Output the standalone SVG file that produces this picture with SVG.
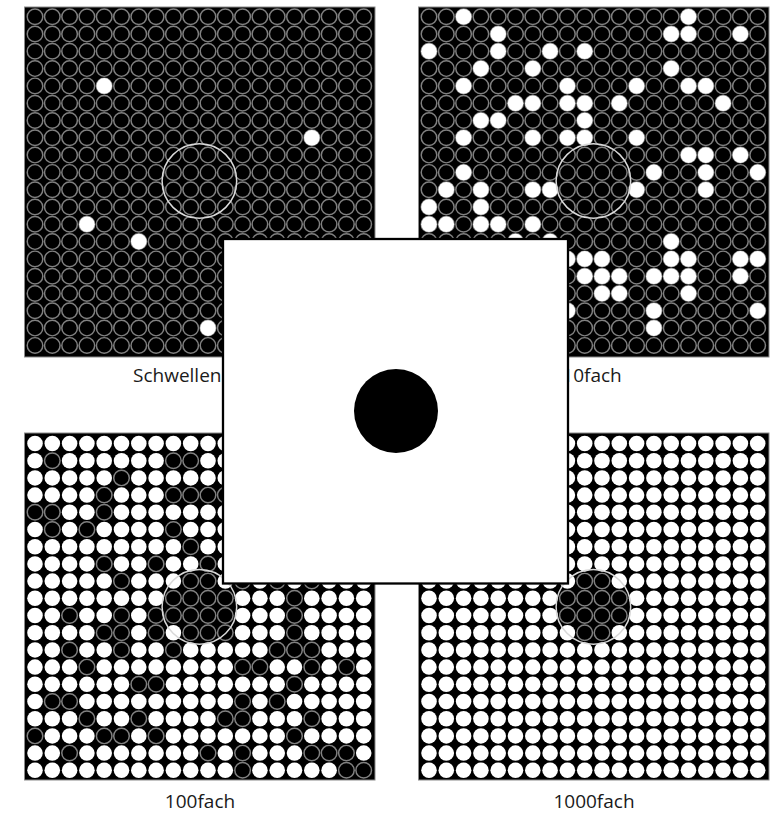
<svg xmlns="http://www.w3.org/2000/svg" xmlns:xlink="http://www.w3.org/1999/xlink" width="774" height="813" viewBox="0 0 774 813">
<style>
.panel{fill:#000;stroke:#8a8a8a;stroke-width:1}
.ring{fill:none;stroke:#d9d9d9;stroke-width:1.5}
.lbl{font-family:"Open Sans","Noto Sans","DejaVu Sans",sans-serif;font-size:19px;fill:#1a1a1a}
.frame{fill:#fff;stroke:#000;stroke-width:2.3}
</style>
<defs>
<circle id="D" r=".45" fill="#000" stroke="#808080" stroke-width=".085"/>
<circle id="W" r=".45" fill="#fff"/>
<g id="RD"><use href="#D" x="0"/><use href="#D" x="1"/><use href="#D" x="2"/><use href="#D" x="3"/><use href="#D" x="4"/><use href="#D" x="5"/><use href="#D" x="6"/><use href="#D" x="7"/><use href="#D" x="8"/><use href="#D" x="9"/><use href="#D" x="10"/><use href="#D" x="11"/><use href="#D" x="12"/><use href="#D" x="13"/><use href="#D" x="14"/><use href="#D" x="15"/><use href="#D" x="16"/><use href="#D" x="17"/><use href="#D" x="18"/><use href="#D" x="19"/></g>
<g id="RW"><use href="#W" x="0"/><use href="#W" x="1"/><use href="#W" x="2"/><use href="#W" x="3"/><use href="#W" x="4"/><use href="#W" x="5"/><use href="#W" x="6"/><use href="#W" x="7"/><use href="#W" x="8"/><use href="#W" x="9"/><use href="#W" x="10"/><use href="#W" x="11"/><use href="#W" x="12"/><use href="#W" x="13"/><use href="#W" x="14"/><use href="#W" x="15"/><use href="#W" x="16"/><use href="#W" x="17"/><use href="#W" x="18"/><use href="#W" x="19"/></g>
<g id="PD"><use href="#RD" y="0"/><use href="#RD" y="1"/><use href="#RD" y="2"/><use href="#RD" y="3"/><use href="#RD" y="4"/><use href="#RD" y="5"/><use href="#RD" y="6"/><use href="#RD" y="7"/><use href="#RD" y="8"/><use href="#RD" y="9"/><use href="#RD" y="10"/><use href="#RD" y="11"/><use href="#RD" y="12"/><use href="#RD" y="13"/><use href="#RD" y="14"/><use href="#RD" y="15"/><use href="#RD" y="16"/><use href="#RD" y="17"/><use href="#RD" y="18"/><use href="#RD" y="19"/></g>
<g id="PW"><use href="#RW" y="0"/><use href="#RW" y="1"/><use href="#RW" y="2"/><use href="#RW" y="3"/><use href="#RW" y="4"/><use href="#RW" y="5"/><use href="#RW" y="6"/><use href="#RW" y="7"/><use href="#RW" y="8"/><use href="#RW" y="9"/><use href="#RW" y="10"/><use href="#RW" y="11"/><use href="#RW" y="12"/><use href="#RW" y="13"/><use href="#RW" y="14"/><use href="#RW" y="15"/><use href="#RW" y="16"/><use href="#RW" y="17"/><use href="#RW" y="18"/><use href="#RW" y="19"/></g>
</defs>
<rect width="774" height="813" fill="#fff"/>

<g id="panel-schwellen">
<rect class="panel" x="24.5" y="7" width="350.5" height="350"/>
<g transform="translate(35 16.7) scale(17.3)">
<use href="#PD"/>
<use href="#W" x="4" y="4"/><use href="#W" x="16" y="7"/><use href="#W" x="3" y="12"/><use href="#W" x="6" y="13"/><use href="#W" x="10" y="18"/>
</g>
<circle class="ring" cx="199.4" cy="181" r="37.3"/>
<text class="lbl" x="133" y="382">Schwellen</text>
</g>

<g id="panel-10fach">
<rect class="panel" x="418.5" y="7" width="350.5" height="350"/>
<g transform="translate(429 16.7) scale(17.3)">
<use href="#PD"/>
<use href="#W" x="2" y="0"/><use href="#W" x="15" y="0"/>
<use href="#W" x="4" y="1"/><use href="#W" x="14" y="1"/><use href="#W" x="15" y="1"/><use href="#W" x="18" y="1"/>
<use href="#W" x="0" y="2"/><use href="#W" x="4" y="2"/><use href="#W" x="7" y="2"/><use href="#W" x="9" y="2"/>
<use href="#W" x="3" y="3"/><use href="#W" x="6" y="3"/><use href="#W" x="14" y="3"/>
<use href="#W" x="2" y="4"/><use href="#W" x="8" y="4"/><use href="#W" x="12" y="4"/><use href="#W" x="15" y="4"/><use href="#W" x="16" y="4"/>
<use href="#W" x="5" y="5"/><use href="#W" x="6" y="5"/><use href="#W" x="8" y="5"/><use href="#W" x="9" y="5"/><use href="#W" x="11" y="5"/><use href="#W" x="17" y="5"/>
<use href="#W" x="3" y="6"/><use href="#W" x="4" y="6"/><use href="#W" x="9" y="6"/>
<use href="#W" x="2" y="7"/><use href="#W" x="6" y="7"/><use href="#W" x="8" y="7"/><use href="#W" x="9" y="7"/><use href="#W" x="12" y="7"/>
<use href="#W" x="15" y="8"/><use href="#W" x="16" y="8"/><use href="#W" x="18" y="8"/>
<use href="#W" x="2" y="9"/><use href="#W" x="13" y="9"/><use href="#W" x="16" y="9"/><use href="#W" x="19" y="9"/>
<use href="#W" x="1" y="10"/><use href="#W" x="3" y="10"/><use href="#W" x="6" y="10"/><use href="#W" x="7" y="10"/><use href="#W" x="12" y="10"/><use href="#W" x="16" y="10"/>
<use href="#W" x="0" y="11"/><use href="#W" x="3" y="11"/>
<use href="#W" x="0" y="12"/><use href="#W" x="1" y="12"/><use href="#W" x="3" y="12"/><use href="#W" x="4" y="12"/><use href="#W" x="6" y="12"/>
<use href="#W" x="5" y="13"/><use href="#W" x="7" y="13"/><use href="#W" x="14" y="13"/>
<use href="#W" x="8" y="14"/><use href="#W" x="9" y="14"/><use href="#W" x="10" y="14"/><use href="#W" x="14" y="14"/><use href="#W" x="15" y="14"/><use href="#W" x="18" y="14"/><use href="#W" x="19" y="14"/>
<use href="#W" x="9" y="15"/><use href="#W" x="10" y="15"/><use href="#W" x="11" y="15"/><use href="#W" x="13" y="15"/><use href="#W" x="14" y="15"/><use href="#W" x="15" y="15"/><use href="#W" x="18" y="15"/>
<use href="#W" x="10" y="16"/><use href="#W" x="11" y="16"/><use href="#W" x="15" y="16"/>
<use href="#W" x="8" y="17"/><use href="#W" x="13" y="17"/><use href="#W" x="19" y="17"/>
<use href="#W" x="13" y="18"/>
</g>
<circle class="ring" cx="593.4" cy="181" r="37.3"/>
<text class="lbl" x="592" y="382" text-anchor="middle">10fach</text>
</g>

<g id="panel-100fach">
<rect class="panel" x="24.5" y="433" width="350.5" height="347"/>
<g transform="translate(35 443.5) scale(17.3 17.2)">
<use href="#PW"/>
<use href="#D" x="1" y="1"/><use href="#D" x="8" y="1"/><use href="#D" x="9" y="1"/>
<use href="#D" x="5" y="2"/>
<use href="#D" x="4" y="3"/><use href="#D" x="8" y="3"/><use href="#D" x="9" y="3"/><use href="#D" x="10" y="3"/><use href="#D" x="11" y="3"/>
<use href="#D" x="0" y="4"/><use href="#D" x="1" y="4"/><use href="#D" x="4" y="4"/>
<use href="#D" x="1" y="5"/><use href="#D" x="3" y="5"/><use href="#D" x="8" y="5"/>
<use href="#D" x="9" y="6"/>
<use href="#D" x="4" y="7"/><use href="#D" x="7" y="7"/><use href="#D" x="10" y="7"/>
<use href="#D" x="5" y="8"/><use href="#D" x="9" y="8"/><use href="#D" x="10" y="8"/><use href="#D" x="12" y="8"/><use href="#D" x="14" y="8"/><use href="#D" x="16" y="8"/>
<use href="#D" x="8" y="9"/><use href="#D" x="9" y="9"/><use href="#D" x="10" y="9"/><use href="#D" x="11" y="9"/><use href="#D" x="15" y="9"/>
<use href="#D" x="2" y="10"/><use href="#D" x="5" y="10"/><use href="#D" x="7" y="10"/><use href="#D" x="8" y="10"/><use href="#D" x="9" y="10"/><use href="#D" x="10" y="10"/><use href="#D" x="11" y="10"/><use href="#D" x="15" y="10"/>
<use href="#D" x="4" y="11"/><use href="#D" x="5" y="11"/><use href="#D" x="7" y="11"/><use href="#D" x="9" y="11"/><use href="#D" x="10" y="11"/><use href="#D" x="11" y="11"/><use href="#D" x="15" y="11"/>
<use href="#D" x="2" y="12"/><use href="#D" x="5" y="12"/><use href="#D" x="8" y="12"/><use href="#D" x="14" y="12"/><use href="#D" x="15" y="12"/><use href="#D" x="16" y="12"/>
<use href="#D" x="3" y="13"/><use href="#D" x="12" y="13"/><use href="#D" x="13" y="13"/><use href="#D" x="16" y="13"/><use href="#D" x="18" y="13"/>
<use href="#D" x="6" y="14"/><use href="#D" x="7" y="14"/><use href="#D" x="15" y="14"/>
<use href="#D" x="1" y="15"/><use href="#D" x="2" y="15"/><use href="#D" x="12" y="15"/><use href="#D" x="14" y="15"/>
<use href="#D" x="3" y="16"/><use href="#D" x="6" y="16"/><use href="#D" x="11" y="16"/><use href="#D" x="12" y="16"/><use href="#D" x="16" y="16"/>
<use href="#D" x="0" y="17"/><use href="#D" x="4" y="17"/><use href="#D" x="5" y="17"/><use href="#D" x="7" y="17"/><use href="#D" x="15" y="17"/>
<use href="#D" x="2" y="18"/><use href="#D" x="10" y="18"/><use href="#D" x="12" y="18"/><use href="#D" x="16" y="18"/><use href="#D" x="17" y="18"/><use href="#D" x="18" y="18"/>
<use href="#D" x="12" y="19"/><use href="#D" x="18" y="19"/><use href="#D" x="19" y="19"/>
</g>
<circle class="ring" cx="199.4" cy="606.9" r="37.3"/>
<text class="lbl" x="200" y="808" text-anchor="middle">100fach</text>
</g>

<g id="panel-1000fach">
<rect class="panel" x="418.5" y="433" width="350.5" height="347"/>
<g transform="translate(429 443.5) scale(17.3 17.2)">
<use href="#PW"/>
<use href="#D" x="9" y="8"/><use href="#D" x="10" y="8"/>
<use href="#D" x="8" y="9"/><use href="#D" x="9" y="9"/><use href="#D" x="10" y="9"/><use href="#D" x="11" y="9"/>
<use href="#D" x="8" y="10"/><use href="#D" x="9" y="10"/><use href="#D" x="10" y="10"/><use href="#D" x="11" y="10"/>
<use href="#D" x="9" y="11"/><use href="#D" x="10" y="11"/>
</g>
<circle class="ring" cx="593.4" cy="606.9" r="37.3"/>
<text class="lbl" x="594" y="808" text-anchor="middle">1000fach</text>
</g>

<g id="center-stimulus">
<rect class="frame" x="223" y="239" width="345" height="344.5"/>
<circle cx="396" cy="411" r="42" fill="#000"/>
</g>
</svg>
